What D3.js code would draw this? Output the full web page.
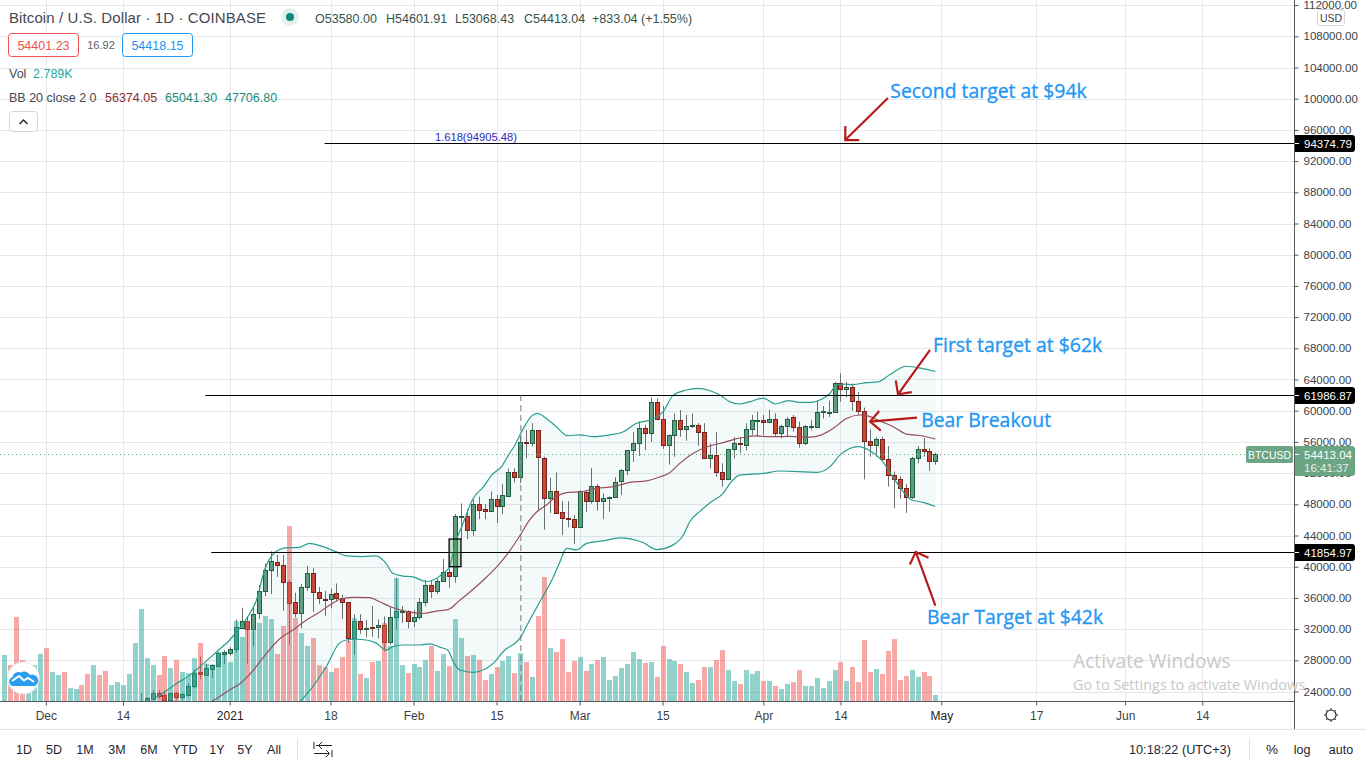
<!DOCTYPE html>
<html>
<head>
<meta charset="utf-8">
<script src="https://cdn.jsdelivr.net/npm/d3@7"></script>
<style>
html, body { margin: 0; padding: 0; background: #fff; overflow: hidden; }
text { font-family: "Liberation Sans", sans-serif; }
.note { font-family: "Open Sans", sans-serif; }
</style>
</head>
<body>
<script>
// days are counted from 1 Jan 2021, prices in thousands of USD, volume in thousands of BTC
var firstVolumeDay = -38;
var firstCandleDay = -15;
var volumes = [
    21.4, 16.7, 39.1, 19.1, 16.3, 16.7, 21.9, 24.6, 13.5, 12.1, 13.5, 6.0, 5.6, 7.4, 12.6, 16.7, 12.1, 14.0, 7.4, 8.8,
    7.4, 12.6, 27.0, 42.8, 20.0, 16.7, 12.1, 20.9, 15.3, 19.1, 13.5, 13.0, 20.0, 27.0, 17.2, 16.3, 22.8, 21.4,
    18.1, 37.2, 29.8, 37.2, 33.5, 36.3, 39.5, 38.1, 21.9, 34.9, 81.4, 38.6, 31.6, 25.6, 29.3, 16.7, 15.8, 13.5, 15.3, 20.5,
    27.9, 38.6, 12.6, 10.7, 18.1, 18.6, 36.3, 25.6, 57.2, 16.7, 13.0, 17.2, 15.8, 19.1, 25.6, 14.0,
    21.9, 16.3, 38.1, 29.3, 20.9, 21.4, 19.1, 9.8, 12.6, 15.8, 18.6, 20.9, 13.0, 22.3, 18.1, 11.2, 39.5, 57.7, 24.6, 22.8,
    28.8, 13.5, 18.6, 20.5, 14.0, 17.2, 19.1, 20.5, 9.8, 11.6, 15.3, 17.2, 22.8, 19.5, 17.7, 18.1, 11.2, 25.6, 19.5, 18.6,
    17.2, 13.5, 8.4, 9.8, 15.8, 15.8, 19.1, 23.7, 14.4, 9.3, 7.9, 14.4, 12.6, 14.0, 9.3, 9.3, 7.0, 5.6, 7.9, 8.8,
    14.4, 7.0, 7.0, 10.7, 6.0, 9.3, 14.4, 18.1, 9.3, 15.8, 8.8, 28.4, 13.5, 14.9, 12.6, 23.3, 28.8, 9.8, 11.6, 14.4,
    11.2, 13.5, 11.6, 2.789
];
// direction of the volume bars that come before the first candle
var earlyVolumeUp = [1, 0, 0, 0, 1, 1, 1, 0, 1, 1, 0, 1, 1, 0, 0, 1, 0, 0, 1, 1, 1, 1, 1];

var candleOpen = [
    21.3, 22.8, 23.08, 23.76, 23.5, 22.9, 23.8, 23.25, 23.6, 24.66, 26.45, 26.16, 26.93, 27.3, 28.85,
    28.98, 29.4, 32.2, 33.0, 32.0, 34.02, 36.84, 39.53, 40.56, 40.2, 38.1, 35.43, 34.02, 37.35, 39.15,
    36.7, 35.9, 35.82, 36.6, 35.95, 35.43, 30.8, 33.0, 32.05, 32.27, 32.25, 32.5, 30.4, 33.5, 34.25,
    34.3, 33.1, 33.5, 35.43, 37.6, 36.93, 38.2, 39.27, 38.85, 46.45, 46.46, 44.75, 48.0, 47.35, 47.18,
    48.64, 47.83, 49.1, 52.1, 51.55, 55.98, 55.8, 57.5, 54.0, 48.85, 49.66, 46.97, 46.3, 46.07, 45.13,
    49.53, 48.47, 50.3, 48.38, 48.77, 48.9, 50.94, 52.35, 54.9, 55.8, 57.75, 57.2, 61.07, 58.9, 55.56,
    56.84, 58.84, 57.6, 58.0, 58.12, 57.3, 54.0, 54.28, 52.2, 51.3, 55.05, 55.8, 55.65, 57.6, 58.7,
    58.76, 58.6, 58.9, 57.1, 58.1, 59.15, 57.95, 55.9, 57.9, 57.95, 59.9, 59.8, 59.8, 63.5, 62.8,
    63.07, 61.3, 60.0, 56.16, 55.65, 56.4, 53.76, 51.7, 51.2, 50.05, 48.98, 54.0, 55.05, 54.8, 53.58
];
var candleHigh = [
    23.8, 23.3, 24.2, 24.2, 24.1, 23.85, 24.0, 23.8, 25.05, 26.84, 28.47, 27.6, 27.5, 29.1, 29.3,
    29.66, 33.2, 34.75, 33.6, 34.8, 37.65, 40.4, 41.97, 41.5, 41.5, 38.3, 36.67, 37.8, 40.1, 39.8,
    37.4, 36.9, 37.2, 37.85, 36.4, 35.5, 33.9, 33.9, 33.15, 34.96, 33.25, 33.6, 34.9, 38.6, 34.96,
    34.4, 34.45, 36.0, 38.3, 38.2, 38.5, 41.0, 39.75, 46.76, 48.1, 47.35, 48.6, 48.98, 48.04, 49.66,
    49.2, 50.6, 52.6, 52.6, 56.7, 57.5, 58.4, 57.5, 54.1, 51.4, 52.1, 48.4, 48.4, 46.63, 49.8,
    49.8, 52.65, 50.6, 49.4, 49.0, 51.45, 52.5, 54.95, 57.3, 58.6, 58.2, 61.7, 61.6, 60.6, 56.95,
    59.65, 60.07, 59.45, 59.66, 58.4, 58.4, 55.8, 57.27, 53.25, 55.1, 56.6, 56.6, 58.4, 59.45, 59.87,
    59.45, 60.1, 59.66, 58.2, 59.2, 59.45, 58.6, 58.15, 58.77, 61.3, 60.6, 61.3, 63.7, 64.8, 63.7,
    63.5, 62.4, 60.4, 57.6, 56.6, 56.65, 55.47, 52.2, 51.6, 50.6, 54.1, 55.47, 56.5, 55.2, 54.6
];
var candleLow = [
    21.2, 22.4, 23.0, 23.08, 22.5, 22.4, 22.9, 22.95, 23.34, 24.4, 25.56, 26.0, 25.7, 27.3, 27.5,
    28.6, 28.98, 32.1, 27.5, 29.8, 33.3, 36.2, 36.5, 38.7, 34.36, 30.0, 33.5, 32.1, 36.9, 34.2,
    35.2, 33.7, 34.66, 35.5, 33.3, 30.2, 28.7, 31.4, 30.95, 31.0, 30.8, 29.15, 30.0, 32.0, 32.8,
    32.1, 32.3, 33.25, 34.9, 36.0, 36.5, 38.1, 37.3, 37.95, 43.55, 43.55, 43.98, 46.1, 46.1, 47.05,
    45.6, 46.75, 48.9, 50.8, 50.7, 53.9, 55.4, 47.2, 44.75, 46.9, 46.9, 44.06, 45.05, 42.9, 45.0,
    47.0, 48.1, 47.2, 46.1, 47.05, 48.8, 49.2, 51.76, 53.45, 54.2, 54.95, 56.0, 58.9, 55.1, 53.08,
    54.1, 56.67, 56.15, 57.75, 55.5, 53.8, 52.6, 51.5, 50.26, 51.1, 53.85, 54.6, 54.9, 56.9, 56.67,
    56.9, 58.4, 56.76, 56.45, 56.76, 57.3, 55.26, 55.6, 57.5, 57.75, 59.0, 59.2, 59.8, 61.16, 61.7,
    60.0, 59.45, 51.2, 54.1, 54.1, 53.7, 50.26, 47.5, 48.7, 46.9, 48.7, 53.25, 54.1, 52.3, 53.07
];
var candleClose = [
    22.8, 23.15, 23.76, 23.42, 22.9, 23.8, 23.25, 23.7, 24.66, 26.41, 26.2, 26.97, 27.35, 28.89, 29.06,
    29.4, 32.23, 33.0, 31.97, 34.0, 36.84, 39.53, 40.7, 40.2, 38.1, 35.4, 34.02, 37.35, 39.15, 36.7,
    35.95, 35.8, 36.54, 35.95, 35.43, 30.8, 33.0, 32.05, 32.2, 32.2, 32.5, 30.4, 33.5, 34.3, 34.3,
    33.1, 33.5, 35.43, 37.6, 36.93, 38.2, 39.27, 38.85, 46.5, 46.5, 44.75, 48.0, 47.3, 47.18, 48.64,
    47.83, 49.15, 52.1, 51.55, 55.98, 55.9, 57.5, 54.1, 48.85, 49.66, 46.9, 46.3, 46.15, 45.13, 49.66,
    48.47, 50.3, 48.38, 48.8, 48.93, 50.9, 52.35, 54.9, 55.8, 57.75, 57.2, 61.07, 58.9, 55.56, 56.84,
    58.84, 57.6, 58.0, 58.12, 57.3, 54.0, 54.28, 52.2, 51.3, 55.05, 55.8, 55.7, 57.6, 58.76, 58.76,
    58.6, 58.9, 57.1, 58.1, 59.0, 57.95, 55.9, 58.0, 58.0, 59.8, 59.9, 59.8, 63.5, 62.8, 63.07,
    61.3, 60.0, 56.16, 55.65, 56.4, 53.76, 51.7, 51.2, 50.05, 48.98, 54.0, 55.05, 54.8, 53.5, 54.41
];

// bollinger readings, [day, price]
var bbUpper = [
    [-13.2, 22.9], [-11.2, 23.85], [-8.9, 25.05], [-6.7, 26.1], [-4.4, 27.6], [-2.2, 29.1], [0, 30.6], [1, 31.5], [2.7, 33.2],
    [4.5, 35.7], [5.9, 39.6], [7.3, 41.6], [8.4, 42.2], [9.8, 42.44], [11.5, 42.44], [13.5, 43], [15.2, 42.7], [18, 41.9],
    [19.7, 41.4], [22.5, 41.3], [24.7, 41.4], [26.4, 40.4], [27.5, 39.15], [29.2, 38.8], [30.9, 38.7], [33.1, 38.1], [34.3, 38.3],
    [36, 39.15], [37, 39.9], [38.2, 43.4], [39.1, 45.1], [41.1, 48.8], [42.8, 50.26], [44.2, 51.76], [45.9, 52.9], [47, 54.3],
    [48.1, 55.6], [49.5, 57.7], [50.9, 59.3], [51.9, 59.66], [53.4, 59], [55.1, 57.95], [56.9, 56.8], [59, 56.9], [61.3, 56.67],
    [64.1, 56.9], [66.4, 57.3], [68.6, 58.4], [70.9, 58.8], [73.1, 59.87], [74.8, 62], [77, 62.65], [79, 62.86], [81, 62.56],
    [82.7, 62], [84.3, 61.16], [86, 60.86], [87.7, 61.16], [90, 61.6], [92, 60.86], [94.2, 61.3], [96.1, 61.07], [98.1, 61.07],
    [99.8, 61.46], [101.2, 62.2], [102.3, 63.3], [103.4, 63.4], [105.1, 63.35], [107.4, 63.6], [109.3, 63.7], [111.3, 64.6],
    [114.1, 65.7], [116.9, 65.4], [119, 65.04]
];
var bbBasis = [
    [-13, 19], [-6, 21], [-2.8, 22.8], [0, 24.2], [1.7, 25], [4, 26.75], [6.2, 28.9], [8.5, 30.8], [10.7, 31.9], [13, 33.2],
    [15.2, 34.2], [16.9, 35.1], [18.5, 35.8], [20.8, 36.07], [23.6, 36.03], [25.3, 35.5], [27, 34.9], [29.2, 34.36], [32.6, 34],
    [34.8, 34.3], [36.8, 34.5], [38.8, 35.7], [40.4, 36.7], [42.8, 38.3], [45.3, 40.2], [47, 41.8], [49, 44.06], [50.4, 45.8],
    [51.8, 47.05], [53.4, 47.9], [55.1, 49], [56.8, 49.5], [59.1, 49.6], [61.9, 50.05], [64.7, 50.26], [67.5, 50.8], [70.3, 51],
    [72.5, 51.5], [74.2, 52.05], [75.9, 53.25], [77.6, 54.25], [79.3, 55], [81.5, 55.6], [83.2, 55.9], [84.9, 56.3], [86.9, 56.6],
    [88.8, 56.76], [91.1, 56.67], [94.5, 56.7], [97.8, 56.6], [99.8, 56.9], [101.8, 57.74], [104, 59], [106.3, 59.45], [107.7, 59.3],
    [109.6, 58.7], [111.9, 57.95], [114.1, 57], [116.9, 56.76], [119, 56.37]
];
var bbLower = [
    [-13, 15.5], [0, 17.8], [5, 18.2], [10, 21], [12.1, 22.9], [14, 24.6], [16.3, 27.2], [18.5, 30.2], [19.7, 30.6], [21.3, 30.7],
    [23, 30.6], [24.7, 30.2], [26.4, 29.3], [27.5, 29.75], [29.2, 29.96], [32, 29.96], [33.7, 30.1], [35.5, 29.66], [36.8, 29.3],
    [37.7, 27.8], [38.8, 26.76], [41, 26.46], [43.3, 26.97], [44.7, 27.8], [46.1, 29.1], [49, 30.9], [50.6, 33.17], [52.3, 35.5],
    [54.6, 38.7], [55.7, 40.65], [56.8, 42.36], [58.5, 42.15], [60.2, 43], [63, 43.3], [65.8, 43.7], [69.7, 43.1], [72, 42.2],
    [74.8, 42.8], [76.5, 44.06], [77.6, 45.8], [79.3, 47.1], [81, 48.2], [83.2, 49.4], [84.6, 50.9], [86, 51.75], [90, 51.96],
    [92.8, 52.27], [99, 52.1], [101.2, 52.8], [102.9, 54.3], [106, 55.4], [107.9, 54.9], [109.9, 53.7], [111.6, 51.76], [113.6, 49.6],
    [115, 48.55], [116.9, 48.25], [119, 47.71]
];

var priceTicks = d3.range(24, 113, 4);
var timeTickDays = [-31, -18, 0, 17, 31, 45, 59, 73, 90, 103, 120, 136, 151, 164];
var timeTickLabels = ["Dec", "14", "2021", "18", "Feb", "15", "Mar", "15", "Apr", "14", "May", "17", "Jun", "14"];
var rangeButtons = ["1D", "5D", "1M", "3M", "6M", "YTD", "1Y", "5Y", "All"];

// drawn levels: start day, price, price label
var levelStart = [16.0, -4.1, -3.1];
var levelPrice = [94.37, 61.99, 41.85];
var levelLabels = ["94374.79", "61986.87", "41854.97"];

// arrows and their notes, in day and price
var arrowTail = [[111, 100.1], [118.1, 67.8], [115.9, 59.1], [119, 35]];
var arrowTip = [[103.8, 94.7], [112.7, 62.1], [108, 58.6], [115.7, 41.9]];
var noteText = ["Second target at $94k", "First target at $62k", "Bear Breakout", "Bear Target at $42k"];
var notePos = [[111.4, 100.1], [118.6, 67.5], [116.6, 57.95], [117.6, 32.6]];

var width = 1366, height = 768, plotRight = 1294, plotBottom = 701;
var gridColor = "#e6e7ea", axisColor = "#55585f", textColor = "#3c3f46";

var svg = d3.select("body").append("svg")
    .attr("width", width)
    .attr("height", height)
    .style("display", "block");

svg.append("defs").append("clipPath")
    .attr("id", "plot")
    .append("rect")
    .attr("width", plotRight)
    .attr("height", plotBottom);

//scales
var x = d3.scaleLinear().domain([0, 120]).range([229.7, 941.3]);
var y = d3.scaleLinear().domain([24, 112]).range([691.5, 5.1]);
var yVol = d3.scaleLinear().domain([0, 100]).range([plotBottom, plotBottom - 215]);

function px(day) { return Math.round(x(day)); }

//grid
var grid = svg.append("g").attr("shape-rendering", "crispEdges");
grid.selectAll(".h").data(priceTicks).enter().append("line")
    .attr("x1", 0).attr("x2", plotRight)
    .attr("y1", function (d) { return Math.round(y(d)) + .5; })
    .attr("y2", function (d) { return Math.round(y(d)) + .5; })
    .attr("stroke", gridColor);
grid.selectAll(".v").data(timeTickDays).enter().append("line")
    .attr("y1", 0).attr("y2", plotBottom)
    .attr("x1", function (d) { return px(d) + .5; })
    .attr("x2", function (d) { return px(d) + .5; })
    .attr("stroke", gridColor);

var plot = svg.append("g").attr("clip-path", "url(#plot)");

//candles
var candles = candleOpen.map(function (o, i) {
    return { day: firstCandleDay + i, o: o, h: candleHigh[i], l: candleLow[i], c: candleClose[i] };
});
var candle = plot.append("g").selectAll("g").data(candles).enter().append("g");
candle.append("line")
    .attr("x1", function (d) { return px(d.day) + .5; })
    .attr("x2", function (d) { return px(d.day) + .5; })
    .attr("y1", function (d) { return y(d.h); })
    .attr("y2", function (d) { return y(d.l); })
    .attr("stroke", "#6e6e6e");
candle.append("rect")
    .attr("x", function (d) { return px(d.day) - 1.5; })
    .attr("width", 4)
    .attr("y", function (d) { return Math.round(y(Math.max(d.o, d.c))) + .5; })
    .attr("height", function (d) { return Math.max(1, Math.round(y(Math.min(d.o, d.c))) - Math.round(y(Math.max(d.o, d.c)))); })
    .attr("fill", function (d) { return d.c >= d.o ? "#5f9f7c" : "#d3422f"; })
    .attr("stroke", function (d) { return d.c >= d.o ? "#1e5c3e" : "#7d1c14"; });

//volume, over the candles like in the reference
plot.append("g").selectAll("rect").data(volumes).enter().append("rect")
    .attr("x", function (d, i) { return px(firstVolumeDay + i) - 2; })
    .attr("width", 5)
    .attr("y", function (d) { return yVol(d); })
    .attr("height", function (d) { return plotBottom - yVol(d); })
    .attr("fill", function (d, i) {
        var day = firstVolumeDay + i;
        var up = day < firstCandleDay ? earlyVolumeUp[i] : candles[day - firstCandleDay].c >= candles[day - firstCandleDay].o;
        return up ? "#26a69a" : "#ef5350";
    })
    .attr("fill-opacity", .5);

//bollinger bands
var bandLine = d3.line()
    .x(function (d) { return x(d[0]); })
    .y(function (d) { return y(d[1]); })
    .curve(d3.curveMonotoneX);
var straight = d3.line()
    .x(function (d) { return x(d[0]); })
    .y(function (d) { return y(d[1]); });
plot.append("path")
    .attr("d", straight(bbUpper.concat(bbLower.slice().reverse())) + "Z")
    .attr("fill", "#26a69a")
    .attr("fill-opacity", .05);
[[bbUpper, "#2a9d90"], [bbLower, "#2a9d90"], [bbBasis, "#96505a"]].forEach(function (b) {
    plot.append("path")
        .attr("d", bandLine(b[0]))
        .attr("fill", "none")
        .attr("stroke", b[1])
        .attr("stroke-width", 1.2);
});

//last price line
plot.append("line")
    .attr("x1", 0).attr("x2", plotRight)
    .attr("y1", Math.round(y(54.413)) + .5).attr("y2", Math.round(y(54.413)) + .5)
    .attr("stroke", "#5f9f7c")
    .attr("stroke-dasharray", "1 3");

//drawn levels, fib text, vertical marker and the breakout box
plot.selectAll(".level").data(levelPrice).enter().append("line")
    .attr("x1", function (d, i) { return x(levelStart[i]) + 0; })
    .attr("x2", plotRight)
    .attr("y1", function (d) { return Math.round(y(d)) + .5; })
    .attr("y2", function (d) { return Math.round(y(d)) + .5; })
    .attr("stroke", "#000");
plot.append("text")
    .attr("x", x(34.6)).attr("y", y(94.55))
    .attr("font-size", 11.2)
    .attr("fill", "#2a2ac4")
    .text("1.618(94905.48)");
plot.append("line")
    .attr("x1", x(49.1)).attr("x2", x(49.1))
    .attr("y1", y(62)).attr("y2", plotBottom)
    .attr("stroke", "#777")
    .attr("stroke-dasharray", "6 4");
plot.append("rect")
    .attr("x", x(37)).attr("width", x(39) - x(37))
    .attr("y", y(43.55)).attr("height", y(40) - y(43.55))
    .attr("fill", "#4c9a5a").attr("fill-opacity", .35)
    .attr("stroke", "#000").attr("stroke-width", 1.3);

//arrows
arrowTip.forEach(function (tip, i) {
    var x0 = x(arrowTail[i][0]), y0 = y(arrowTail[i][1]), x1 = x(tip[0]), y1 = y(tip[1]);
    var a = Math.atan2(y0 - y1, x0 - x1), len = 14, spread = Math.PI / 4;
    var path = d3.path();
    path.moveTo(x0, y0);
    path.lineTo(x1, y1);
    path.moveTo(x1 + len * Math.cos(a - spread), y1 + len * Math.sin(a - spread));
    path.lineTo(x1, y1);
    path.lineTo(x1 + len * Math.cos(a + spread), y1 + len * Math.sin(a + spread));
    svg.append("path")
        .attr("d", path.toString())
        .attr("fill", "none")
        .attr("stroke", "#b71c1c")
        .attr("stroke-width", 2.2);
});
svg.selectAll(".note").data(noteText).enter().append("text")
    .attr("class", "note")
    .attr("x", function (d, i) { return x(notePos[i][0]); })
    .attr("y", function (d, i) { return y(notePos[i][1]); })
    .attr("font-size", 19.4)
    .attr("fill", "#2196f3")
    .attr("stroke", "#2196f3")
    .attr("stroke-width", .3)
    .text(function (d) { return d; });

//axes
var yAxis = svg.append("g")
    .attr("transform", "translate(" + (plotRight + .5) + ",0)")
    .call(d3.axisRight(y).tickValues(priceTicks)
        .tickFormat(function (d) { return (d * 1000).toFixed(2); }).tickSizeInner(4).tickSizeOuter(0).tickPadding(5));
yAxis.select(".domain").remove();
yAxis.selectAll("line").attr("stroke", axisColor);
yAxis.selectAll("text").attr("font-size", 11.5).attr("fill", textColor).attr("font-family", "Liberation Sans");
var xAxis = svg.append("g")
    .attr("transform", "translate(0," + (plotBottom + .5) + ")")
    .call(d3.axisBottom(x).tickValues(timeTickDays)
        .tickFormat(function (d, i) { return timeTickLabels[i]; }).tickSizeInner(4).tickSizeOuter(0).tickPadding(6));
xAxis.select(".domain").remove();
xAxis.selectAll("line").attr("stroke", axisColor);
xAxis.selectAll("text").attr("font-size", 12).attr("fill", function (d) { return d === 0 || d === 120 ? "#222" : textColor; })
    .attr("font-family", "Liberation Sans");

var frame = svg.append("g").attr("shape-rendering", "crispEdges");
frame.append("line").attr("x1", 0).attr("x2", plotRight).attr("y1", plotBottom + .5).attr("y2", plotBottom + .5).attr("stroke", axisColor);
frame.append("line").attr("x1", plotRight + .5).attr("x2", plotRight + .5).attr("y1", 0).attr("y2", 729).attr("stroke", axisColor);
frame.append("line").attr("x1", 0).attr("x2", width).attr("y1", 729.5).attr("y2", 729.5).attr("stroke", "#e0e3eb");
frame.append("line").attr("x1", 297.5).attr("x2", 297.5).attr("y1", 738).attr("y2", 760).attr("stroke", "#e0e3eb");
frame.append("line").attr("x1", 1249.5).attr("x2", 1249.5).attr("y1", 738).attr("y2", 760).attr("stroke", "#e0e3eb");

function txt(x0, y0, s, size, fill, anchor) {
    return svg.append("text")
        .attr("x", x0).attr("y", y0)
        .attr("font-size", size)
        .attr("fill", fill)
        .attr("text-anchor", anchor || "start")
        .text(s);
}

//price labels
levelPrice.forEach(function (p, i) {
    var yy = Math.round(y(p));
    svg.append("path")
        .attr("d", "M1295," + (yy - 8) + "h57a3,3 0 0 1 3,3v11a3,3 0 0 1 -3,3h-57z")
        .attr("fill", "#000");
    svg.append("line").attr("x1", 1295).attr("x2", 1299).attr("y1", yy + .5).attr("y2", yy + .5).attr("stroke", "#fff");
    txt(1304, yy + 4.5, levelLabels[i], 11.5, "#fff");
});
svg.append("rect").attr("x", 1246).attr("y", 446).attr("width", 47).attr("height", 17).attr("rx", 2).attr("fill", "#6ba584");
txt(1269.5, 458.5, "BTCUSD", 10.5, "#fff", "middle");
svg.append("path")
    .attr("d", "M1295,446h57a3,3 0 0 1 3,3v24a3,3 0 0 1 -3,3h-57z")
    .attr("fill", "#6ba584");
svg.append("line").attr("x1", 1295).attr("x2", 1299).attr("y1", 454.5).attr("y2", 454.5).attr("stroke", "#fff");
txt(1304, 459, "54413.04", 11.5, "#fff");
txt(1304, 472, "16:41:37", 11.5, "#e3efe8");
svg.append("rect").attr("x", 1317.5).attr("y", 9.5).attr("width", 27).attr("height", 16).attr("rx", 2)
    .attr("fill", "#fff").attr("stroke", "#d1d4dc");
txt(1331, 21.5, "USD", 10.5, textColor, "middle");

//header and legend
txt(9, 23, "Bitcoin / U.S. Dollar \u00b7 1D \u00b7 COINBASE", 15, "#45484f").attr("letter-spacing", .1);
svg.append("circle").attr("cx", 290).attr("cy", 17).attr("r", 9).attr("fill", "#26a69a").attr("fill-opacity", .15);
svg.append("circle").attr("cx", 290).attr("cy", 17).attr("r", 4).attr("fill", "#10897a");
txt(315, 23, "O53580.00", 12.5, "#35524a");
txt(386, 23, "H54601.91", 12.5, "#35524a");
txt(455, 23, "L53068.43", 12.5, "#35524a");
txt(524, 23, "C54413.04", 12.5, "#35524a");
txt(592, 23, "+833.04 (+1.55%)", 12.5, "#35524a");
svg.append("rect").attr("x", 8.5).attr("y", 33.5).attr("width", 70).attr("height", 23).attr("rx", 3).attr("fill", "#fff").attr("stroke", "#ef5350");
txt(43.5, 49.5, "54401.23", 12.5, "#ef5350", "middle");
txt(101, 49, "16.92", 11, "#5d606b", "middle");
svg.append("rect").attr("x", 122.5).attr("y", 33.5).attr("width", 70).attr("height", 23).attr("rx", 3).attr("fill", "#fff").attr("stroke", "#2196f3");
txt(157.5, 49.5, "54418.15", 12.5, "#2196f3", "middle");
txt(9, 78, "Vol", 12.5, "#45484f");
txt(33, 78, "2.789K", 12.5, "#26a69a");
txt(9, 102, "BB 20 close 2 0", 12.5, "#45484f");
txt(105, 102, "56374.05", 12.5, "#8b2c33");
txt(165, 102, "65041.30", 12.5, "#1b8a7a");
txt(225, 102, "47706.80", 12.5, "#1b8a7a");
svg.append("rect").attr("x", 9.5).attr("y", 111.5).attr("width", 28).attr("height", 20).attr("rx", 3).attr("fill", "#fff").attr("stroke", "#d1d4dc");
svg.append("path").attr("d", "M19.5,124l4,-4l4,4").attr("fill", "none").attr("stroke", "#222").attr("stroke-width", 1.4);

//bottom toolbar
var buttonX = [24, 54, 85, 117, 149, 185, 217, 245, 274];
rangeButtons.forEach(function (b, i) { txt(buttonX[i], 754, b, 12.5, "#1f2430", "middle"); });
svg.append("path")
    .attr("d", "M316,745.5h16M322,742l-3.5,3.5l3.5,3.5M314,753.5h15M326,750l3.5,3.5l-3.5,3.5M314,742v7M332,750v7")
    .attr("fill", "none").attr("stroke", "#222");
txt(1129, 754, "10:18:22 (UTC+3)", 12.7, "#1f2430");
txt(1272, 754, "%", 13.5, "#1f2430", "middle");
txt(1302, 754, "log", 12.5, "#1f2430", "middle");
txt(1341, 754, "auto", 12.5, "#1f2430", "middle");

//settings gear
svg.append("circle").attr("cx", 1331).attr("cy", 715).attr("r", 5).attr("fill", "none").attr("stroke", "#222").attr("stroke-width", 1.1);
d3.range(8).forEach(function (k) {
    var a = k * Math.PI / 4;
    svg.append("line")
        .attr("x1", 1331 + 5 * Math.cos(a)).attr("y1", 715 + 5 * Math.sin(a))
        .attr("x2", 1331 + 7 * Math.cos(a)).attr("y2", 715 + 7 * Math.sin(a))
        .attr("stroke", "#222");
});

//logo
svg.append("circle").attr("cx", 23.3).attr("cy", 678).attr("r", 16).attr("fill", "#fff").attr("stroke", "#e6e7ea");
svg.append("path")
    .attr("d", "M13,686a4.5,4.5 0 0 1 -.5,-8.8a6,6 0 0 1 8.5,-4.7a6.5,6.5 0 0 1 9,2.5a5.5,5.5 0 0 1 4.5,11z")
    .attr("fill", "#2b9df0");
svg.append("path")
    .attr("d", "M12,681l7,-5l5,4.5l4,-2.5l6,4")
    .attr("fill", "none").attr("stroke", "#fff").attr("stroke-width", 2);

//watermark
svg.append("text").attr("class", "note").attr("x", 1073).attr("y", 668).attr("font-size", 19.2).attr("fill", "#c9c9c9").text("Activate Windows");
svg.append("text").attr("class", "note").attr("x", 1073).attr("y", 690).attr("font-size", 14.4).attr("fill", "#c9c9c9").text("Go to Settings to activate Windows");
</script>
</body>
</html>
